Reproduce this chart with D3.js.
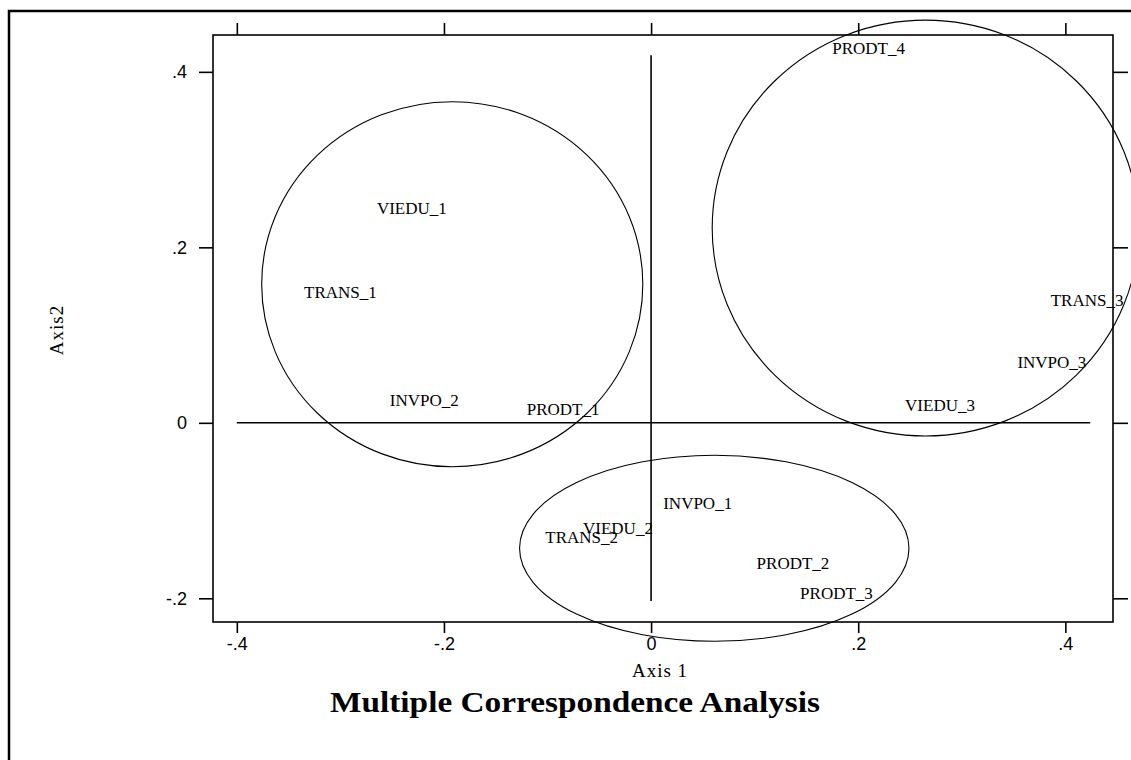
<!DOCTYPE html>
<html>
<head>
<meta charset="utf-8">
<script src="https://cdn.jsdelivr.net/npm/d3@7"></script>
<style>
  body { margin: 0; background: #fff; }
  svg { display: block; }
</style>
</head>
<body>
<div id="chart"></div>
<script>
// category points (label, axis1, axis2)
const labels = ["PRODT_4", "VIEDU_1", "TRANS_1", "INVPO_2", "PRODT_1", "INVPO_1",
  "VIEDU_2", "TRANS_2", "PRODT_2", "PRODT_3", "TRANS_3", "INVPO_3", "VIEDU_3"];
const axis1 = [0.210, -0.231, -0.300, -0.219, -0.085, 0.045,
  -0.032, -0.067, 0.137, 0.179, 0.421, 0.387, 0.279];
const axis2 = [0.427, 0.245, 0.149, 0.026, 0.016, -0.092,
  -0.120, -0.130, -0.160, -0.194, 0.140, 0.069, 0.020];

// group ellipses in data units
const ellCx = [-0.192, 0.265, 0.061];
const ellCy = [0.158, 0.222, -0.143];
const ellRx = [0.184, 0.206, 0.188];
const ellRy = [0.208, 0.237, 0.106];

const xTicks = [-0.4, -0.2, 0, 0.2, 0.4];
const yTicks = [-0.2, 0, 0.2, 0.4];
const tickFmt = (d) => d === 0 ? "0" : (d < 0 ? "-" : "") + Math.abs(d).toFixed(1).replace("0.", ".");

const width = 1131, height = 760;
const box = { left: 213, top: 35, right: 1113, bottom: 622 };

const x = d3.scaleLinear().domain([-0.423, 0.446]).range([box.left, box.right]);
const y = d3.scaleLinear().domain([-0.227, 0.442]).range([box.bottom, box.top]);

const svg = d3.select("#chart").append("svg")
  .attr("width", width).attr("height", height);

// outer frame (runs off the right and bottom)
svg.append("rect")
  .attr("x", 9).attr("y", 11)
  .attr("width", 1200).attr("height", 800)
  .attr("fill", "none").attr("stroke", "#000").attr("stroke-width", 2.5);

// plot box
svg.append("rect")
  .attr("x", box.left).attr("y", box.top)
  .attr("width", box.right - box.left).attr("height", box.bottom - box.top)
  .attr("fill", "none").attr("stroke", "#000").attr("stroke-width", 1.6);

const tickFont = "'Liberation Sans', Arial, sans-serif";

const xAxis = svg.append("g")
  .attr("transform", `translate(0,${box.bottom})`)
  .call(d3.axisBottom(x).tickValues(xTicks).tickFormat(tickFmt).tickSize(11).tickPadding(4));
const xAxisTop = svg.append("g")
  .attr("transform", `translate(0,${box.top})`)
  .call(d3.axisTop(x).tickValues(xTicks).tickFormat("").tickSize(12));
const yAxis = svg.append("g")
  .attr("transform", `translate(${box.left},0)`)
  .call(d3.axisLeft(y).tickValues(yTicks).tickFormat(tickFmt).tickSize(14).tickPadding(12));
const yAxisRight = svg.append("g")
  .attr("transform", `translate(${box.right},0)`)
  .call(d3.axisRight(y).tickValues(yTicks).tickFormat("").tickSize(15));

[xAxis, xAxisTop, yAxis, yAxisRight].forEach((g) => {
  g.select(".domain").remove();
  g.selectAll(".tick line").attr("stroke", "#000").attr("stroke-width", 1.6);
  g.selectAll(".tick text")
    .attr("font-family", tickFont).attr("font-size", 18).attr("fill", "#000");
});

// reference lines through the origin
svg.append("line")
  .attr("x1", x(-0.4)).attr("x2", x(0.424))
  .attr("y1", y(0)).attr("y2", y(0))
  .attr("stroke", "#000").attr("stroke-width", 1.6);
svg.append("line")
  .attr("x1", x(0)).attr("x2", x(0))
  .attr("y1", y(-0.203)).attr("y2", y(0.419))
  .attr("stroke", "#000").attr("stroke-width", 1.6);

// ellipses
svg.append("g").selectAll("ellipse")
  .data(ellCx.map((cx, i) => ({ cx, cy: ellCy[i], rx: ellRx[i], ry: ellRy[i] })))
  .join("ellipse")
  .attr("cx", (d) => x(d.cx))
  .attr("cy", (d) => y(d.cy))
  .attr("rx", (d) => x(d.rx) - x(0))
  .attr("ry", (d) => y(0) - y(d.ry))
  .attr("fill", "none").attr("stroke", "#000").attr("stroke-width", 1.1);

// point labels
const serif = "'Liberation Serif', 'Times New Roman', serif";
svg.append("g").selectAll("text")
  .data(labels.map((name, i) => ({ name, a: axis1[i], b: axis2[i] })))
  .join("text")
  .attr("x", (d) => x(d.a))
  .attr("y", (d) => y(d.b))
  .attr("dy", "0.35em")
  .attr("text-anchor", "middle")
  .attr("font-family", serif).attr("font-size", 17)
  .attr("fill", "#000")
  .text((d) => d.name);

// axis titles
svg.append("text")
  .attr("x", 660).attr("y", 677)
  .attr("text-anchor", "middle")
  .attr("font-family", serif).attr("font-size", 19)
  .attr("letter-spacing", 1)
  .text("Axis 1");
svg.append("text")
  .attr("transform", "translate(63,330) rotate(-90)")
  .attr("text-anchor", "middle")
  .attr("font-family", serif).attr("font-size", 19)
  .attr("letter-spacing", 1)
  .text("Axis2");

// chart title
svg.append("text")
  .attr("x", 330).attr("y", 712)
  .attr("font-family", serif).attr("font-size", 30)
  .attr("font-weight", "bold")
  .attr("textLength", 490).attr("lengthAdjust", "spacingAndGlyphs")
  .text("Multiple Correspondence Analysis");
</script>
</body>
</html>
